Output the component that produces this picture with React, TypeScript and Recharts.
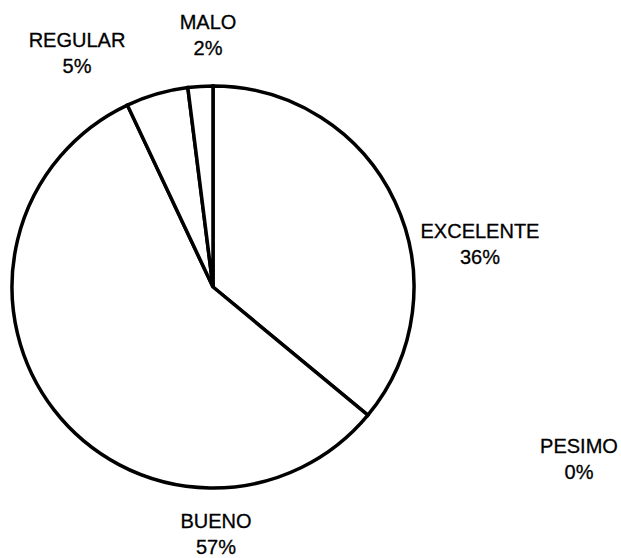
import React from "react"
import { PieChart, Pie, Cell } from "recharts"

const categories = ["EXCELENTE", "BUENO", "REGULAR", "MALO", "PESIMO"]
const shares = [36, 57, 5, 2, 0]

const data = categories.map((name, i) => ({ name, value: shares[i] }))

// where each label sits, relative to the pie centre (name baseline)
const labelOffset: Record<string, [number, number]> = {
  EXCELENTE: [267, -49],
  BUENO: [3, 241],
  REGULAR: [-136, -240],
  MALO: [-5, -258],
  PESIMO: [366, 166],
}

const renderLabel = (props: any) => {
  const { cx, cy, name, percent } = props
  const off = labelOffset[name]
  if (!off) return null
  const x = cx + off[0]
  const y = cy + off[1]
  return (
    <text
      x={x}
      y={y}
      textAnchor="middle"
      fill="#000"
      fontSize={20}
      fontFamily="'Liberation Sans', Arial, sans-serif"
      stroke="#000"
      strokeWidth={0.3}
    >
      <tspan x={x}>{name}</tspan>
      <tspan x={x} dy={26}>{`${Math.round(percent * 100)}%`}</tspan>
    </text>
  )
}

const App = () => {
  return (
    <div style={{ position: "absolute", left: 0, top: 0, width: 621, height: 558, background: "#fff" }}>
      <PieChart width={621} height={558} margin={{ top: 0, right: 0, bottom: 0, left: 0 }}>
        <Pie
          data={data}
          dataKey="value"
          nameKey="name"
          cx={213}
          cy={287}
          outerRadius={201}
          startAngle={90}
          endAngle={-270}
          stroke="#000"
          strokeWidth={3.5}
          label={renderLabel}
          labelLine={false}
          isAnimationActive={false}
        >
          {data.map((d) => (
            <Cell key={d.name} fill="#fff" stroke="#000" strokeWidth={3.5} />
          ))}
        </Pie>
      </PieChart>
    </div>
  )
}

export default App
